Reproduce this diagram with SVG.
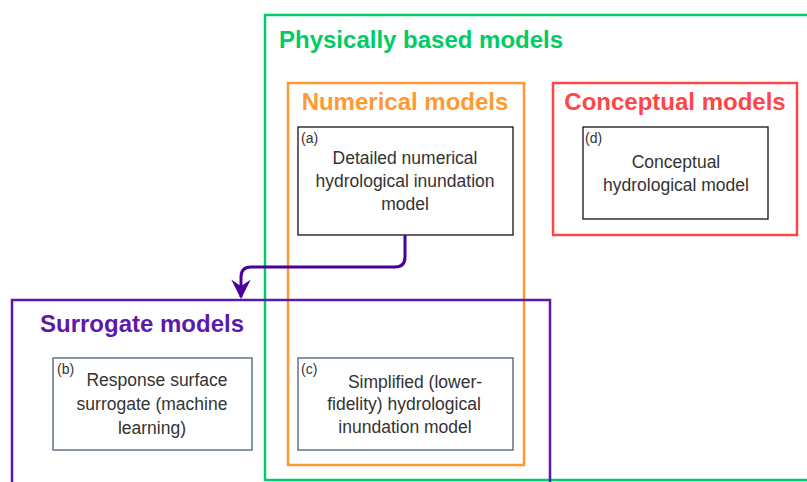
<svg xmlns="http://www.w3.org/2000/svg" width="807" height="482" viewBox="0 0 807 482">
<defs>
<style>
.grp{fill:none;stroke-width:2.5}
.title{font-family:"Liberation Sans",Arial,sans-serif;font-weight:bold;font-size:24px}
.node{fill:#fff;stroke-width:1.3}
.lbl{font-family:"Liberation Sans",Arial,sans-serif;font-size:17.5px;fill:#333;text-anchor:middle}
.tag{font-family:"Liberation Sans",Arial,sans-serif;font-size:14px;fill:#333}
</style>
<marker id="ah" markerWidth="6.5" markerHeight="6.5" viewBox="0 0 10 10" refX="9" refY="5" orient="auto" markerUnits="strokeWidth">
<path d="M0,0 L10,5 L0,10 L3.5,5 z" fill="#4C0099"/>
</marker>
</defs>
<rect width="807" height="482" fill="#fff"/>
<g id="physically-based">
<rect class="grp" x="265" y="15" width="560" height="465" stroke="#00CC66"/>
<text class="title" x="279" y="48" fill="#00CC66">Physically based models</text>
</g>
<g id="numerical">
<rect class="grp" x="288" y="83" width="236" height="382" stroke="#FF9933"/>
<text class="title" x="405" y="110" fill="#FF9933" text-anchor="middle">Numerical models</text>
</g>
<g id="conceptual">
<rect class="grp" x="553" y="83" width="244" height="152" stroke="#FF4545"/>
<text class="title" x="675" y="110" fill="#FF4545" text-anchor="middle">Conceptual models</text>
</g>
<g id="surrogate">
<rect class="grp" x="12" y="300" width="538" height="200" stroke="#5B1BAA"/>
<text class="title" x="142" y="332" fill="#5B1BAA" text-anchor="middle">Surrogate models</text>
</g>
<g id="node-a">
<rect class="node" x="298" y="127" width="215" height="108" stroke="#111"/>
<text class="tag" x="301" y="143">(a)</text>
<text class="lbl" x="405" y="164">Detailed numerical</text>
<text class="lbl" x="405" y="187">hydrological inundation</text>
<text class="lbl" x="405" y="210">model</text>
</g>
<g id="node-d">
<rect class="node" x="583" y="127" width="185" height="92" stroke="#111"/>
<text class="tag" x="585" y="143">(d)</text>
<text class="lbl" x="676" y="168">Conceptual</text>
<text class="lbl" x="676" y="191">hydrological model</text>
</g>
<g id="node-b">
<rect class="node" x="53" y="358" width="199" height="92" stroke="#4A6076"/>
<text class="tag" x="57" y="374">(b)</text>
<text class="lbl" x="157" y="386">Response surface</text>
<text class="lbl" x="152" y="410">surrogate (machine</text>
<text class="lbl" x="152" y="434">learning)</text>
</g>
<g id="node-c">
<rect class="node" x="298" y="358" width="215" height="92" stroke="#4A6076"/>
<text class="tag" x="301" y="374">(c)</text>
<text class="lbl" x="415" y="388">Simplified (lower-</text>
<text class="lbl" x="404" y="410">fidelity) hydrological</text>
<text class="lbl" x="405" y="433">inundation model</text>
</g>
<g id="connectors">
<path d="M405,235 V257 Q405,267 395,267 H251 Q241,267 241,277 V297" fill="none" stroke="#4C0099" stroke-width="3" marker-end="url(#ah)"/>
</g>
</svg>
